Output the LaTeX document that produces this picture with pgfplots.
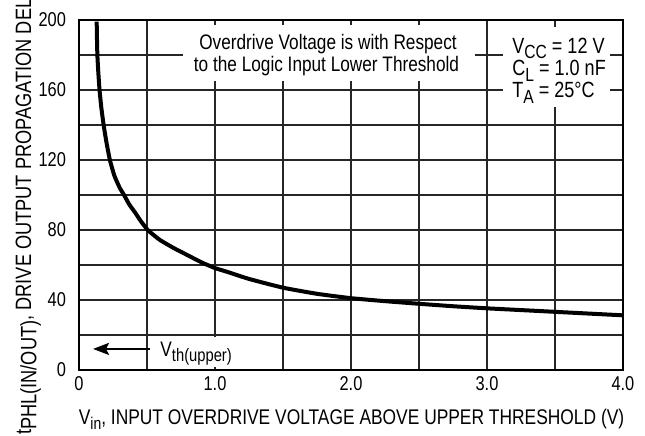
\documentclass[border=0pt]{standalone}
\usepackage{fontspec}
\setmainfont{Liberation Sans}[FakeStretch=0.82]
\usepackage{pgfplots}
\pgfplotsset{compat=1.18}
\usetikzlibrary{arrows.meta}
\newcommand\sub[2][8.5pt]{\raisebox{-0.45ex}{\fontsize{#1}{#1}\selectfont #2}}

\begin{document}
\begin{tikzpicture}
\begin{axis}[
  scale only axis, width=272pt, height=175pt,
  xmin=0, xmax=4, ymin=0, ymax=200,
  xtick={0,1,2,3,4}, xticklabels={0,1.0,2.0,3.0,4.0},
  minor xtick={0.5,1.5,2.5,3.5},
  ytick={0,40,80,120,160,200}, minor ytick={20,60,100,140,180},
  grid=both,
  major grid style={black!85, line width=0.6pt},
  minor grid style={black!85, line width=0.6pt},
  major tick length=0pt, minor tick length=0pt,
  axis line style={line width=0.6pt},
  tick label style={font=\fontsize{10}{10}\selectfont},
  /pgf/number format/assume math mode=true,
  yticklabel style={xshift=-3pt},
  clip=false,
]
\addplot[black, line width=2pt, smooth, tension=0.3, line join=round] coordinates {
 (0.13,199) (0.132,190) (0.135,180) (0.142,170) (0.151,160) (0.164,150)
 (0.181,140) (0.202,130) (0.227,120) (0.26,111) (0.3,104) (0.331,100)
 (0.37,94.5) (0.412,90) (0.455,85) (0.505,80) (0.55,77) (0.6,74) (0.7,69.5)
 (0.8,65.5) (0.9,61.5) (1.0,58.2) (1.1,55.8) (1.25,52) (1.5,47) (1.75,43.5)
 (2.0,41) (2.25,39.3) (2.5,37.8) (2.75,36.4) (3.0,35.2) (3.25,34.2) (3.5,33.2)
 (3.75,32.2) (4.0,31.2)
};
\draw[line width=1.3pt] (axis cs:0,200) -- (axis cs:0,0) -- (axis cs:4,0);
% annotation boxes
\node[fill=white, inner sep=0pt, minimum width=146pt, minimum height=28pt] at (axis cs:1.84,181) {};
\node[anchor=base, font=\fontsize{10.5}{11}\selectfont] at (axis cs:1.831,182.9) {Overdrive Voltage is with Respect};
\node[anchor=base, font=\fontsize{10.5}{11}\selectfont] at (axis cs:1.82,170.3) {to the Logic Input Lower Threshold};
\node[fill=white, inner sep=0pt, minimum width=53.4pt, minimum height=40pt] at (axis cs:3.511,173) {};
\node[anchor=base west, inner sep=0pt, font=\fontsize{11}{11}\selectfont] at (axis cs:3.184,181.1) {V\sub[9.5pt]{CC} = 12 V};
\node[anchor=base west, inner sep=0pt, font=\fontsize{11}{11}\selectfont] at (axis cs:3.184,168) {C\sub[9.5pt]{L} = 1.0 nF};
\node[anchor=base west, inner sep=0pt, font=\fontsize{11}{11}\selectfont] at (axis cs:3.184,155.4) {T\sub[9.5pt]{A} = 25°C};
\node[fill=white, inner sep=0pt, minimum width=48.5pt, minimum height=15pt] at (axis cs:0.864,10.3) {};
\node[anchor=base west, inner sep=0pt, font=\fontsize{10.5}{10.5}\selectfont] at (axis cs:0.596,7.4) {V\sub[9pt]{th(upper)}};
\draw[line width=1.2pt, -{Stealth[length=8pt, width=6pt, inset=1.5pt]}] (axis cs:0.52,12) -- (axis cs:0.103,12);
% axis labels
\node[anchor=base, inner sep=0pt, font=\fontsize{10.6}{11}\selectfont] at (axis cs:2.004,-31.4) {V\sub{in}, INPUT OVERDRIVE VOLTAGE ABOVE UPPER THRESHOLD (V)};
\node[anchor=base, inner sep=0pt, rotate=90, font=\fontsize{11.1}{11}\selectfont] at (axis cs:-0.353,104.5) {t\sub[11.1pt]{PHL(IN/OUT)}, DRIVE OUTPUT PROPAGATION DELAY (ns)};
% bounding box
\coordinate (bbl) at (axis cs:-0.581,-37.7);
\coordinate (btr) at (axis cs:4.162,211.4);
\end{axis}
\pgfresetboundingbox
\useasboundingbox (bbl) rectangle (btr);
\end{tikzpicture}
\end{document}
